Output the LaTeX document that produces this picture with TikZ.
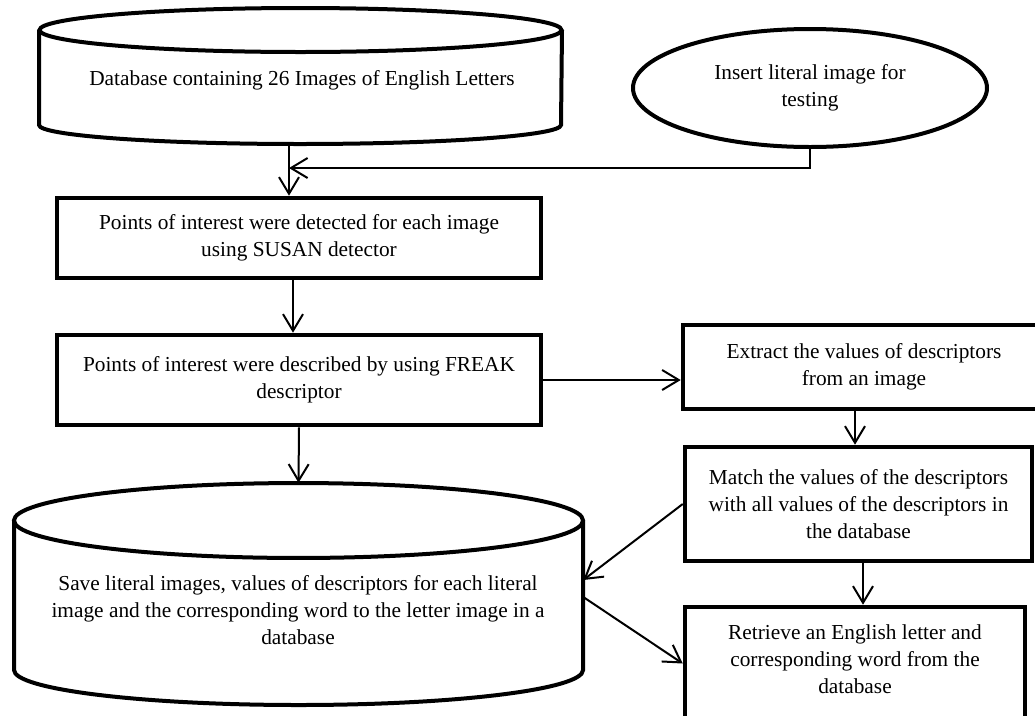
\documentclass[tikz,border=0pt]{standalone}
\usepackage{fontspec}
\setmainfont{Liberation Serif}
\usetikzlibrary{arrows.meta,shapes.geometric}
\begin{document}
\begin{tikzpicture}[x=0.75pt,y=-0.75pt,
  every node/.style={font=\fontsize{16}{20.25}\selectfont, align=center, inner sep=0pt},
  box/.style={draw, line width=3.4pt, rectangle},
  cyl/.style={draw, line width=3pt},
  hull/.style={rectangle, draw=none},
  arr/.style={line width=1.5pt, -{Straight Barb[length=12.5pt,width=15pt]}}]
\path[use as bounding box, clip] (0,0) rectangle (1035,715);
\fill[white] (0,0) rectangle (1035,715);

% top database cylinder
\node[hull, minimum width=392.25pt, minimum height=101.25pt] (db1) at (300.5,75.5) {};
\draw[cyl] (300.5,30) ellipse [x radius=195.75pt, y radius=16.5pt];
\draw[cyl] (39,30) -- (39,125) arc[start angle=180, end angle=360, x radius=195.75pt, y radius=14.25pt] -- (562,30);
\node (db1t) at (302,80) {Database containing 26 Images of English Letters};

% test image ellipse
\node[ellipse, draw, line width=3pt, minimum width=265.5pt, minimum height=88.5pt] (ell) at (810,88) {Insert literal image for\\testing};

% boxes
\node[box, minimum width=363pt, minimum height=60pt] (b2) at (299,238) {Points of interest were detected for each image\\using SUSAN detector};
\node[box, minimum width=363pt, minimum height=67.5pt] (b3) at (299,380) {Points of interest were described by using FREAK\\descriptor};
\node[box, minimum width=271.5pt, minimum height=63pt] (b4) at (864,367) {Extract the values of descriptors\\from an image};
\node[box, minimum width=260.25pt, minimum height=85.5pt] (b5) at (858.5,504) {Match the values of the descriptors\\with all values of the descriptors in\\the database};
\node[box, minimum width=255pt, minimum height=84.75pt] (b6) at (855,663.5) {};
\node (b6t) at (855,659) {Retrieve an English letter and\\corresponding word from the\\database};

% bottom database cylinder
\node[hull, minimum width=426.75pt, minimum height=166.5pt] (db2) at (298.5,594) {};
\draw[cyl] (298.5,520.5) ellipse [x radius=213.4pt, y radius=28.1pt];
\draw[cyl] (14,520.5) -- (14,670) arc[start angle=180, end angle=360, x radius=213.4pt, y radius=26.25pt] -- (583,520.5);
\node (db2t) at (298,610) {Save literal images, values of descriptors for each literal\\image and the corresponding word to the letter image in a\\database};

% connectors
\coordinate (j1) at (289,168);
\coordinate (j2) at (855,0);
\coordinate (j3) at (863,0);
\draw[arr] (db1.south -| j1) -- (b2.north -| j1);
\draw[arr] (ell.south) -- (ell.south |- j1) -- (j1);
\draw[arr] ([xshift=-4.5pt]b2.south) -- ([xshift=-4.5pt]b3.north);
\draw[arr] (b3.east) -- (b3.east -| b4.west);
\draw[arr] (b4.south -| j2) -- (b5.north -| j2);
\draw[arr] (b5.west) -- ([yshift=10.5pt]db2.east);
\draw[arr] (b5.south -| j3) -- (b6.north -| j3);
\draw[arr] ([yshift=-2.25pt]db2.east) -- (b6.west);
\draw[arr] (b3.south) -- (db2.north);
\end{tikzpicture}
\end{document}
